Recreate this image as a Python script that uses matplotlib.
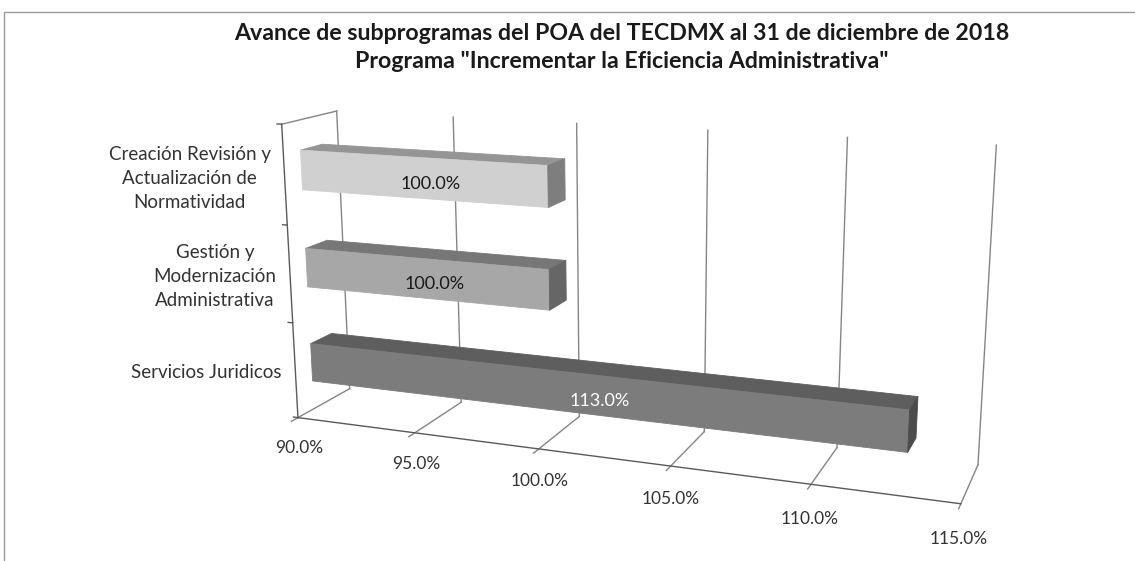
import matplotlib
matplotlib.use("Agg")
import matplotlib.pyplot as plt
from matplotlib.patches import Rectangle
from matplotlib.colors import to_rgba
from mpl_toolkits.mplot3d import proj3d

# data (bottom to top, as drawn)
categories = ["Servicios Juridicos",
              "Gestión y\nModernización\nAdministrativa",
              "Creación Revisión y\nActualización de\nNormatividad"]
values = [113.0, 100.0, 100.0]
value_labels = ["113.0%", "100.0%", "100.0%"]
ticks = [90, 95, 100, 105, 110, 115]
tick_labels = ["90.0%", "95.0%", "100.0%", "105.0%", "110.0%", "115.0%"]

title1 = "Avance de subprogramas del POA del TECDMX al 31 de diciembre de 2018"
title2 = 'Programa "Incrementar la Eficiencia Administrativa"'

# bar shades: front, top, end cap
front_cols = ["#7c7c7c", "#a7a7a7", "#d0d0d0"]
top_cols = ["#5e5e5e", "#777777", "#959595"]
cap_cols = ["#4c4c4c", "#666666", "#7e7e7e"]
label_cols = ["white", "#1a1a1a", "#1a1a1a"]

plt.rcParams['font.family'] = ['Lato', 'DejaVu Sans']

W, H = 1135, 561
fig = plt.figure(figsize=(W / 100, H / 100), dpi=100)
fig.patch.set_facecolor("white")

# chart area border (only top and left edges are in frame)
fig.patches.append(Rectangle((4 / W, -0.2), 1.2, 1.2 - 12 / H,
                             transform=fig.transFigure, fill=False,
                             edgecolor="#9a9a9a", linewidth=1.0))

fig.text(622 / W, 1 - 33 / H, title1, ha="center", va="center",
         fontsize=16.7, fontweight="bold", color="#1a1a1a")
fig.text(622 / W, 1 - 62 / H, title2, ha="center", va="center",
         fontsize=16.7, fontweight="bold", color="#1a1a1a")

# 3D axes, camera fitted to the Excel perspective
ax = fig.add_axes([47.5 / W, -18.0 / H, 1, 1], projection="3d",
                  computed_zorder=False)
ax.set_xlim(90, 115)
ax.set_ylim(0, 1)
ax.set_zlim(0, 3)
ax.set_box_aspect((1, 0.154, 0.449), zoom=1.3454)
ax.set_proj_type("persp", focal_length=0.5136)
ax.view_init(elev=14.14, azim=-69.35, roll=0.10)
ax.set_axis_off()
ax.patch.set_alpha(0)

M = ax.get_proj()


def label3d(x, y, z, s, **kw):
    # place a flat 2D label at the projected position of a 3D point
    px, py, _ = proj3d.proj_transform(x, y, z, M)
    return ax.annotate(s, (px, py), xycoords="data", annotation_clip=False, **kw)


grid_col = "#858585"
axis_col = "#5a5a5a"
x0, x1 = ticks[0], ticks[-1]
ztop = len(categories)

# gridlines on back wall and floor
for t in ticks:
    ax.plot([t, t], [1, 1], [0, ztop], color=grid_col, lw=1, zorder=1, clip_on=False)
    ax.plot([t, t], [-0.12, 1], [0, 0], color=grid_col, lw=1, zorder=1, clip_on=False)

# axis lines: floor front edge and left wall outline
ax.plot([x0, x1], [0, 0], [0, 0], color=axis_col, lw=1, zorder=1, clip_on=False)
ax.plot([x0, x0], [0, 0], [0, ztop], color=axis_col, lw=1, zorder=1, clip_on=False)
ax.plot([x0, x0], [0, 1], [ztop, ztop], color=grid_col, lw=1, zorder=1, clip_on=False)
for k in range(ztop + 1):
    ax.plot([x0 - 0.2, x0], [0, 0], [k, k], color=axis_col, lw=1, zorder=1,
            clip_on=False)

# bars
for i, v in enumerate(values):
    trans = (0, 0, 0, 0)
    faces = [trans, to_rgba(top_cols[i]), to_rgba(front_cols[i]), trans,
             trans, to_rgba(cap_cols[i])]
    bar = ax.bar3d(x0, 0.3, i + 0.3, v - x0, 0.4, 0.4, color=faces,
                   edgecolor=faces, linewidth=0.6, shade=False, zorder=2)
    bar.set_clip_on(False)
    label3d((x0 + v) / 2 + 0.4, 0.3, i + 0.45, value_labels[i], ha="center",
            va="center", fontsize=13, color=label_cols[i], zorder=4)

# category labels on the left wall
for i, c in enumerate(categories):
    label3d(x0 - 0.6, 0, i + 0.46, c, ha="right", va="center",
            multialignment="center", fontsize=13.5, color="#333333",
            linespacing=1.5, zorder=4)

# value tick labels below the floor front edge
for t, lab in zip(ticks, tick_labels):
    label3d(t, 0, -0.33, lab, ha="center", va="center", fontsize=12.5,
            color="#333333", zorder=4)

fig.savefig("out.png", dpi=100)
